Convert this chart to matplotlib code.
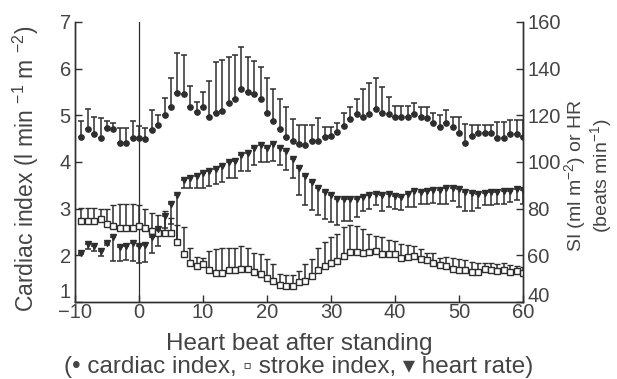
import matplotlib
matplotlib.use("Agg")
import matplotlib.pyplot as plt
import numpy as np

plt.rcParams['font.family'] = ['Liberation Sans', 'DejaVu Sans']
plt.rcParams['mathtext.fontset'] = 'custom'
plt.rcParams['mathtext.rm'] = 'Liberation Sans'
plt.rcParams['mathtext.it'] = 'Liberation Sans'

# heart beat number relative to standing
beats = np.arange(-9, 61)

# cardiac index (l/min/m2), mean and top of error bar
ci = [4.54, 4.71, 4.60, 4.51, 4.73, 4.70, 4.40, 4.40, 4.51, 4.51,
      4.50, 4.69, 4.79, 5.00, 5.18, 5.48, 5.46, 5.17, 5.07, 5.17,
      4.97, 5.06, 5.10, 5.26, 5.36, 5.56, 5.50, 5.46, 5.36, 5.04,
      4.88, 4.71, 4.54, 4.44, 4.39, 4.36, 4.44, 4.46,
      4.54, 4.56, 4.65, 4.77, 4.93, 5.03, 4.96, 5.03, 5.14, 5.06,
      5.03, 4.96, 4.96, 4.97, 5.03, 4.96, 4.95, 4.84, 4.74, 4.84,
      4.74, 4.63, 4.41, 4.56, 4.63, 4.63, 4.63, 4.51, 4.51, 4.61,
      4.61, 4.54]
ci_top = [4.88, 5.14, 4.96, 4.94, 4.88, 4.83, 4.73, 4.73, 4.88, 4.77,
          4.73, 5.11, 5.00, 5.37, 5.80, 6.34, 6.29, 5.63, 5.29, 5.49,
          5.74, 6.14, 6.19, 6.25, 6.30, 6.47, 6.24, 6.17, 6.03, 5.80,
          5.56, 5.36, 5.17, 4.92, 4.80, 4.80, 4.80, 4.95,
          4.76, 4.76, 4.83, 5.04, 5.17, 5.34, 5.56, 5.69, 5.80, 5.60,
          5.40, 5.20, 5.20, 5.20, 5.26, 5.17, 5.17, 5.06, 5.00, 5.11,
          4.97, 4.96, 4.81, 4.79, 4.79, 4.79, 4.79, 4.85, 4.86, 4.90,
          4.91, 4.90]

# stroke index (ml/m2)
si = [74.9, 74.9, 74.9, 75.7, 73.5, 72.5, 71.6, 71.6, 71.6, 72.5,
      71.6, 70.4, 69.6, 69.6, 69.6, 65.8, 60.4, 56.8, 55.4, 56.1,
      53.9, 52.5, 52.5, 53.9, 53.5, 54.2, 54.2, 52.8, 52.2, 50.3,
      48.8, 47.1, 46.7, 47.0, 48.4, 48.8, 51.0,
      53.5, 55.3, 56.5, 57.4,
      59.7, 61.4, 61.4, 61.2, 61.4, 61.9, 60.4, 60.4, 60.4, 59.0,
      59.4, 59.7, 58.3, 58.0, 56.8, 55.7, 55.4, 54.2, 53.9, 53.9,
      52.8, 52.8, 54.2, 53.9, 53.2, 53.6, 52.8, 53.2, 52.5]
si_top = [80.3, 80.3, 80.3, 80.0, 79.7, 81.4, 82.2, 82.2, 82.2, 81.4,
          80.0, 78.3, 77.1, 78.8, 76.0, 72.8, 72.0, 63.3, 59.4, 59.0,
          61.9, 62.6, 63.0, 63.0, 63.0, 64.0, 63.0, 60.9, 60.4, 58.3,
          56.1, 52.2, 51.7, 51.7, 53.2, 56.1, 58.6,
          63.3, 65.5, 68.0, 69.2,
          72.0, 73.0, 72.5, 71.3, 69.1, 68.1, 67.7, 66.5, 66.2, 64.8,
          64.3, 63.8, 62.9, 61.2, 60.9, 59.0, 59.4, 59.0, 58.3, 58.0,
          57.1, 56.8, 56.5, 56.5, 56.1, 56.5, 55.7, 55.4, 55.1]

# heart rate (beats/min), mean and bottom of error bar
hr = [61.2, 64.8, 63.8, 61.9, 65.2, 67.7, 63.6, 64.0, 65.1, 63.8,
      64.3, 67.7, 71.3, 76.8, 82.2, 85.8, 92.3, 93.3, 94.2, 95.2,
      96.2, 97.1, 98.1, 100.0, 100.6, 102.9, 103.9, 106.1, 107.2, 106.1,
      107.5, 105.8, 104.6, 101.4, 97.4, 93.8, 91.6, 88.7, 87.2, 85.8,
      84.3,
      84.1, 84.1, 84.1, 85.1, 85.8, 86.1, 85.8, 86.1, 85.5, 85.1,
      86.1, 87.5, 87.2, 87.5, 88.0, 88.0, 88.7, 89.0, 88.4, 87.2,
      86.5, 86.1, 86.5, 87.2, 87.2, 87.5, 87.5, 88.4, 88.0]
hr_low = [60.4, 62.6, 61.9, 59.7, 64.3, 57.5, 57.5, 58.0, 57.5, 56.8,
          57.1, 61.2, 64.0, 71.6, 73.5, 65.5, 88.7, 88.7, 89.0, 89.0,
          89.7, 90.4, 91.3, 93.0, 93.3, 96.0, 96.0, 98.8, 100.0, 100.0,
          100.6, 98.8, 96.7, 93.0, 85.8, 81.4, 79.6, 77.1, 75.7, 74.2,
          73.0,
          74.9, 74.9, 76.4, 78.8, 80.0, 81.4, 78.8, 80.7, 80.0, 79.3,
          80.7, 80.7, 82.2, 82.2, 82.6, 82.2, 82.2, 83.2, 80.7, 78.8,
          78.8, 80.3, 81.4, 81.7, 82.2, 82.2, 82.9, 83.6, 82.2]

ink = '#2e2e2e'
txt = '#444444'

fig = plt.figure(figsize=(6.17, 3.79), dpi=100)
ax = fig.add_axes([0.1216, 0.2032, 0.726, 0.7388])
ax2 = ax.twinx()

ci = np.array(ci); si = np.array(si); hr = np.array(hr)
zero = np.zeros(len(beats))

ax.axvline(0, color=ink, lw=0.9, zorder=1)

ax.errorbar(beats, ci, yerr=[zero, np.array(ci_top) - ci], fmt='o', ms=3.8,
            color=ink, ecolor=ink, elinewidth=1.1, capsize=2.5, capthick=1.1)
ax2.errorbar(beats, si, yerr=[zero, np.array(si_top) - si], fmt='s', ms=4.0,
             mfc='white', mec=ink, mew=1.0, color=ink, ecolor=ink,
             elinewidth=1.1, capsize=2.5, capthick=1.1)
ax2.errorbar(beats, hr, yerr=[hr - np.array(hr_low), zero], fmt='v', ms=5.0,
             color=ink, ecolor=ink, elinewidth=1.1, capsize=2.5, capthick=1.1)

ax.set_xlim(-10, 60)
ax.set_ylim(1, 7)
ax2.set_ylim(40, 160)
ax.set_xticks(range(-10, 61, 10))
ax.set_yticks(range(1, 8))
ax2.set_yticks(range(40, 161, 20))

for a in (ax, ax2):
    a.spines['top'].set_visible(False)
    for s in a.spines.values():
        s.set_color(ink)
        s.set_linewidth(1.0)
    a.tick_params(direction='in', length=5, width=1.0, colors=ink,
                  labelcolor=txt, labelsize=14.5, pad=3)
ax.tick_params(axis='x', pad=1)
# bottom labels of both y axes sit just above the corner, clear of the x labels
ax.get_yticklabels()[0].set_va('bottom')
ax2.get_yticklabels()[0].set_va('baseline')

ax.set_ylabel('Cardiac index (l min $^{-1}$ m $^{-2}$)', fontsize=16.5, color=txt)
ax.yaxis.set_label_coords(-0.075, 0.475)
ax2.set_ylabel('SI (ml m$^{-2}$) or HR\n(beats min$^{-1}$)', fontsize=14,
               color=txt, linespacing=1.0)
ax2.yaxis.set_label_coords(1.088, 0.45)
ax.set_xlabel('Heart beat after standing\n(\u2022 cardiac index, \u25ab stroke index, \u25be heart rate)',
              fontsize=17.5, color=txt, labelpad=8, linespacing=1.05)

fig.savefig('out.png', dpi=100)
